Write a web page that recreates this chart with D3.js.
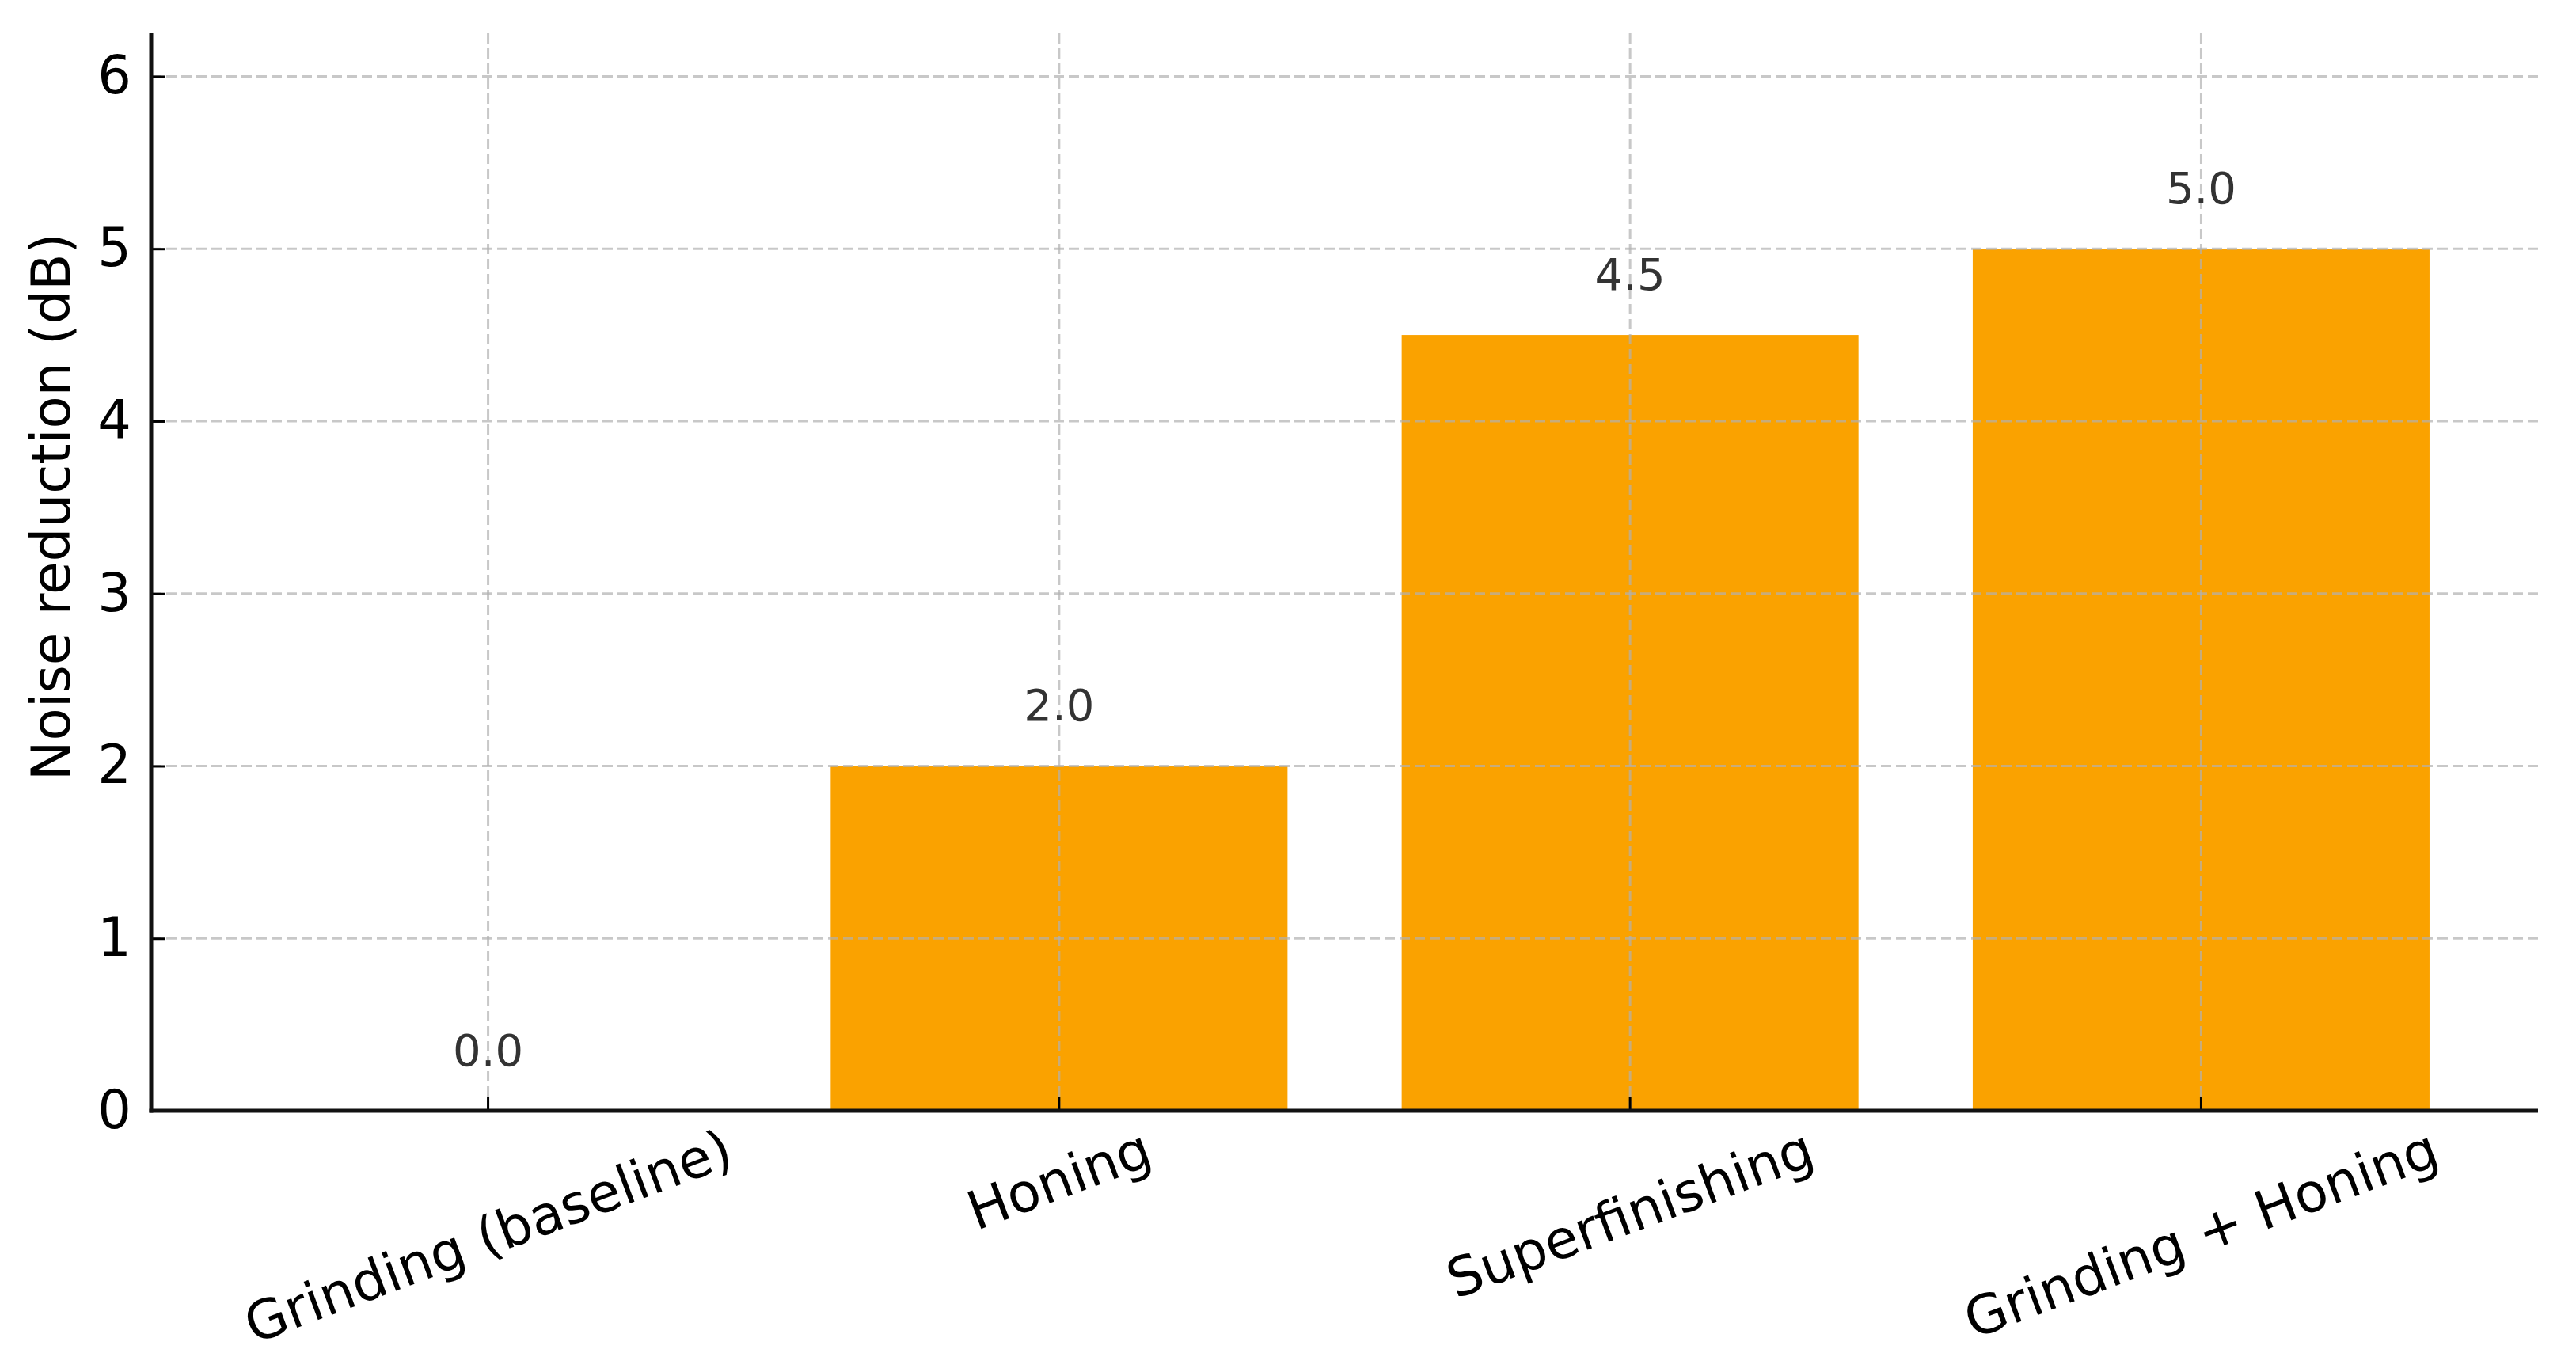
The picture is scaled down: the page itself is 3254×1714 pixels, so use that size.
<!DOCTYPE html>
<html>
<head>
<meta charset="utf-8">
<script src="https://cdn.jsdelivr.net/npm/d3@7"></script>
<style>
  html, body { margin: 0; padding: 0; background: #ffffff; }
  svg { display: block; font-family: "DejaVu Sans", sans-serif; }
</style>
</head>
<body>
<svg id="chart" width="3254" height="1714"></svg>
<script>
const categories = ["Grinding (baseline)", "Honing", "Superfinishing", "Grinding + Honing"];
const values = [0.0, 2.0, 4.5, 5.0];
const yTicks = [0, 1, 2, 3, 4, 5, 6];
const yLabel = "Noise reduction (dB)";

const mLeft = 191, mRight = 3206, mTop = 42, mBottom = 1403;

const svg = d3.select("#chart");

const x = d3.scaleBand()
  .domain(categories)
  .range([mLeft, mRight])
  .paddingInner(0.2)
  .paddingOuter(0.19);

const y = d3.scaleLinear().domain([0, 6.25]).range([mBottom, mTop]);

// Bars
svg.append("g").selectAll("rect")
  .data(categories.map((c, i) => ({c, v: values[i]})))
  .join("rect")
  .attr("x", d => x(d.c))
  .attr("width", x.bandwidth())
  .attr("y", d => y(d.v))
  .attr("height", d => y(0) - y(d.v))
  .attr("fill", "#faa200");

// Grid (drawn over bars)
const grid = svg.append("g")
  .attr("stroke", "#b0b0b0")
  .attr("stroke-opacity", 0.7)
  .attr("stroke-width", 3)
  .attr("stroke-dasharray", "13,6");
grid.selectAll("line.h").data(yTicks).join("line")
  .attr("class", "h")
  .attr("x1", mLeft).attr("x2", mRight)
  .attr("y1", d => y(d)).attr("y2", d => y(d));
grid.selectAll("line.v").data(categories).join("line")
  .attr("class", "v")
  .attr("x1", d => x(d) + x.bandwidth() / 2).attr("x2", d => x(d) + x.bandwidth() / 2)
  .attr("y1", mTop).attr("y2", mBottom);

// Y axis
const yAxis = d3.axisLeft(y).tickValues(yTicks).tickFormat(d3.format("d"))
  .tickSizeInner(-18).tickSizeOuter(0).tickPadding(25);
const gy = svg.append("g").attr("transform", `translate(${mLeft},0)`).call(yAxis);
gy.select(".domain").remove();
gy.selectAll(".tick line").attr("stroke", "#000").attr("stroke-width", 3);
gy.selectAll(".tick text")
  .attr("x", -25)
  .attr("font-size", 67)
  .attr("font-family", "DejaVu Sans")
  .attr("fill", "#000");

// X axis
const xAxis = d3.axisBottom(x).tickSizeInner(-18).tickSizeOuter(0).tickPadding(0);
const gx = svg.append("g").attr("transform", `translate(0,${mBottom})`).call(xAxis);
gx.select(".domain").remove();
gx.selectAll(".tick line").attr("stroke", "#000").attr("stroke-width", 3);
gx.selectAll(".tick text").remove();
gx.selectAll(".tick").each(function(d) {
  const g = d3.select(this).append("g").attr("class", "lbl");
  g.append("text")
    .attr("text-anchor", "middle")
    .attr("dominant-baseline", "central")
    .attr("font-size", 68)
    .attr("font-family", "DejaVu Sans")
    .attr("fill", "#000")
    .attr("transform", "rotate(-20.5)")
    .text(d);
  const bb = g.node().getBBox();
  g.attr("transform", `translate(0,${8 - bb.y})`);
});

// Spines
svg.append("line").attr("x1", mLeft).attr("x2", mLeft).attr("y1", mTop).attr("y2", mBottom + 2.5)
  .attr("stroke", "#111").attr("stroke-width", 5);
svg.append("line").attr("x1", mLeft - 2.5).attr("x2", mRight).attr("y1", mBottom).attr("y2", mBottom)
  .attr("stroke", "#111").attr("stroke-width", 5);

// Value labels
svg.append("g").selectAll("text")
  .data(categories.map((c, i) => ({c, v: values[i]})))
  .join("text")
  .attr("x", d => x(d.c) + x.bandwidth() / 2)
  .attr("y", d => y(d.v + 0.25) - 3)
  .attr("text-anchor", "middle")
  .attr("font-size", 56)
  .attr("font-family", "DejaVu Sans")
  .attr("fill", "#333")
  .text(d => d3.format(".1f")(d.v));

// Y label
svg.append("text")
  .attr("transform", `translate(64,640) rotate(-90)`)
  .attr("text-anchor", "middle")
  .attr("dominant-baseline", "central")
  .attr("font-size", 67.5)
  .attr("font-family", "DejaVu Sans")
  .attr("fill", "#000")
  .text(yLabel);
</script>
</body>
</html>
